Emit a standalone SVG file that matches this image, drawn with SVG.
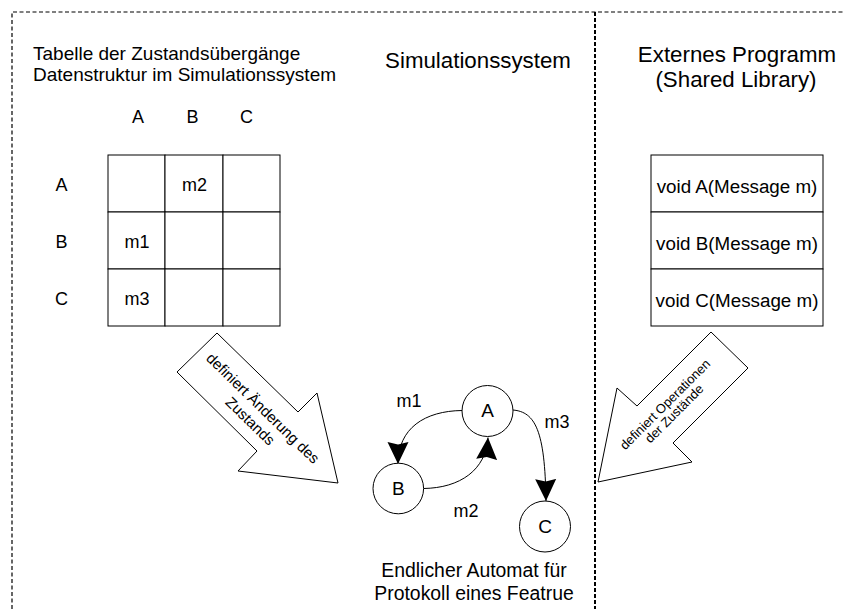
<svg xmlns="http://www.w3.org/2000/svg" width="845" height="609" viewBox="0 0 845 609">
  <style>
    text { font-family: "Liberation Sans", Arial, sans-serif; fill: #000; }
    .title { font-size: 19px; }
    .head { font-size: 22.3px; text-anchor: middle; }
    .lbl { font-size: 18px; text-anchor: middle; }
    .fn { font-size: 18.8px; text-anchor: middle; }
    .state { font-size: 19px; text-anchor: middle; }
    .caption { font-size: 19.4px; text-anchor: middle; }
    .cell { fill: #fff; stroke: #000; stroke-width: 1; }
    .frame { fill: none; stroke: #000; stroke-width: 1.2; stroke-dasharray: 4 2.5; }
    .divider { fill: none; stroke: #000; stroke-width: 2; stroke-dasharray: 4 2; }
    .circle { fill: #fff; stroke: #000; stroke-width: 1; }
    .edge { fill: none; stroke: #000; stroke-width: 1; }
    .block { fill: #fff; stroke: #000; stroke-width: 1; stroke-linejoin: miter; }
  </style>
  <defs>
    <marker id="arrow" markerUnits="userSpaceOnUse" viewBox="0 0 22 22" refX="22" refY="11" markerWidth="22" markerHeight="22" orient="auto">
      <path d="M0,0.5 L22,11 L0,21.5 L2.5,11 z" fill="#000"/>
    </marker>
  </defs>

  <rect width="845" height="609" fill="#fff"/>

  <!-- system boundaries -->
  <g id="boundaries">
    <path class="frame" d="M12,609 V12 H845"/>
    <path class="divider" d="M595,12 V609"/>
  </g>

  <!-- headings -->
  <g id="headings">
    <text class="title" x="33" y="60">Tabelle der Zustandsübergänge</text>
    <text class="title" x="33" y="81">Datenstruktur im Simulationssystem</text>
    <text class="head" x="478" y="68">Simulationssystem</text>
    <text class="head" x="737" y="62">Externes Programm</text>
    <text class="head" x="736" y="87">(Shared Library)</text>
  </g>

  <!-- transition table -->
  <g id="table">
    <rect class="cell" x="108" y="155" width="57" height="57"/>
    <rect class="cell" x="165" y="155" width="58" height="57"/>
    <rect class="cell" x="223" y="155" width="57" height="57"/>
    <rect class="cell" x="108" y="212" width="57" height="57"/>
    <rect class="cell" x="165" y="212" width="58" height="57"/>
    <rect class="cell" x="223" y="212" width="57" height="57"/>
    <rect class="cell" x="108" y="269" width="57" height="57"/>
    <rect class="cell" x="165" y="269" width="58" height="57"/>
    <rect class="cell" x="223" y="269" width="57" height="57"/>
    <text class="lbl" x="138" y="122.5">A</text>
    <text class="lbl" x="192.5" y="122.5">B</text>
    <text class="lbl" x="246.5" y="122.5">C</text>
    <text class="lbl" x="61.5" y="190.5">A</text>
    <text class="lbl" x="61.5" y="247.5">B</text>
    <text class="lbl" x="61.5" y="304.5">C</text>
    <text class="lbl" x="194.5" y="190.5">m2</text>
    <text class="lbl" x="137" y="247.5">m1</text>
    <text class="lbl" x="137" y="304.5">m3</text>
  </g>

  <!-- operations of the shared library -->
  <g id="operations">
    <rect class="cell" x="651" y="155" width="172" height="57"/>
    <rect class="cell" x="651" y="212" width="172" height="57"/>
    <rect class="cell" x="651" y="269" width="172" height="57"/>
    <text class="fn" x="737" y="193">void A(Message m)</text>
    <text class="fn" x="737" y="250">void B(Message m)</text>
    <text class="fn" x="737" y="307">void C(Message m)</text>
  </g>

  <!-- block arrow: table defines state changes -->
  <g id="arrow-table">
    <polygon class="block" points="217,333 298,412 317,393 338,483 238,471 257,451 177,372"/>
    <g transform="translate(197,352.5) rotate(44.3)" font-size="15" text-anchor="middle">
      <text x="86" y="-1">definiert Änderung des</text>
      <text x="86" y="17">Zustands</text>
    </g>
  </g>

  <!-- block arrow: library defines state operations -->
  <g id="arrow-library">
    <polygon class="block" points="711,332 748,368 673,443 692,462 598,482 617,388 637,406"/>
    <g transform="translate(669.6,409) rotate(-45)" font-size="13" text-anchor="middle">
      <text x="0" y="-2">definiert Operationen</text>
      <text x="0" y="11">der Zustände</text>
    </g>
  </g>

  <!-- state machine transitions -->
  <g id="connectors">
    <path class="edge" d="M462,410.5 C425,411 398,428 398,464" marker-end="url(#arrow)"/>
    <path class="edge" d="M423.5,488.5 C460,488 486,470 488,437.5" marker-end="url(#arrow)"/>
    <path class="edge" d="M513,410 C535,412 545,430 546,501" marker-end="url(#arrow)"/>
    <text class="lbl" x="409" y="406.5">m1</text>
    <text class="lbl" x="466" y="517">m2</text>
    <text class="lbl" x="557" y="427.5">m3</text>
  </g>

  <!-- states -->
  <g id="state-A">
    <circle class="circle" cx="487.5" cy="411" r="25.5"/>
    <text class="state" x="487.5" y="417">A</text>
  </g>
  <g id="state-B">
    <circle class="circle" cx="398.3" cy="488.5" r="25.3"/>
    <text class="state" x="398.3" y="494.5">B</text>
  </g>
  <g id="state-C">
    <circle class="circle" cx="545" cy="526.5" r="25.5"/>
    <text class="state" x="545" y="533">C</text>
  </g>

  <!-- caption -->
  <g id="caption">
    <text class="caption" x="474" y="577">Endlicher Automat für</text>
    <text class="caption" x="474" y="600">Protokoll eines Featrue</text>
  </g>
</svg>
